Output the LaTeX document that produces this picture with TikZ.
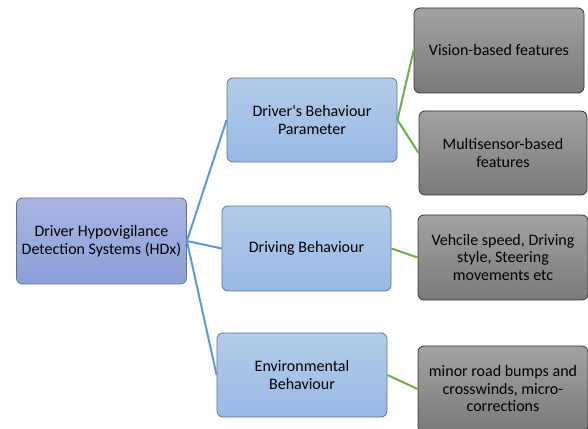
\documentclass[tikz,border=0pt]{standalone}
\usepackage{fontspec}
\setmainfont{Carlito}
\definecolor{rootT}{HTML}{A9B5E2}
\definecolor{rootB}{HTML}{8C9FD9}
\definecolor{midT}{HTML}{B4CBEA}
\definecolor{midB}{HTML}{97B9E4}
\definecolor{greyT}{HTML}{A2A2A2}
\definecolor{greyB}{HTML}{7A7A7A}
\definecolor{blueline}{HTML}{5B9BD5}
\definecolor{greenline}{HTML}{70AD47}
\definecolor{bluebord}{HTML}{5F7390}
\tikzset{
  base/.style={rectangle, rounded corners=6pt, align=center, inner sep=2pt,
    font=\fontsize{16}{17.5}\selectfont, text=black, line width=0.8pt},
  rootbox/.style={base, draw=bluebord, top color=rootT, bottom color=rootB},
  midbox/.style={base, draw=bluebord, top color=midT, bottom color=midB},
  leafbox/.style={base, draw=black!80, top color=greyT, bottom color=greyB},
  bl/.style={draw=blueline, line width=2pt},
  gl/.style={draw=greenline, line width=2pt}
}
\begin{document}
\begin{tikzpicture}[x=1pt,y=1pt]
\useasboundingbox (0,0) rectangle (588,428);
\fill[white] (0,0) rectangle (588,428);
\node[rootbox, minimum width=170pt, minimum height=86pt] (root) at (101.5,187) {Driver Hypovigilance\\Detection Systems (HDx)};
\node[midbox, minimum width=170pt, minimum height=84pt] (dbp) at (312,308) {Driver\textquotesingle s Behaviour\\Parameter};
\node[midbox, minimum width=169pt, minimum height=85pt] (db) at (306.5,179.5) {Driving Behaviour};
\node[midbox, minimum width=170pt, minimum height=84pt] (env) at (302,53) {Environmental\\Behaviour};
\node[leafbox, minimum width=170pt, minimum height=85pt] (vis) at (499,377.5) {Vision-based features};
\node[leafbox, minimum width=168pt, minimum height=84pt] (multi) at (503,275) {Multisensor-based\\features};
\node[leafbox, minimum width=170pt, minimum height=85pt] (veh) at (503,170.5) {Vehcile speed, Driving\\style, Steering\\movements etc};
\node[leafbox, minimum width=170pt, minimum height=86pt] (minor) at (503,39) {minor road bumps and\\crosswinds, micro-\\corrections};
\draw[bl] (root.east) -- (dbp.west);
\draw[bl] (root.east) -- (db.west);
\draw[bl] (root.east) -- (env.west);
\draw[gl] (dbp.east) -- (vis.west);
\draw[gl] (dbp.east) -- (multi.west);
\draw[gl] (db.east) -- (veh.west);
\draw[gl] (env.east) -- (minor.west);
\end{tikzpicture}
\end{document}
